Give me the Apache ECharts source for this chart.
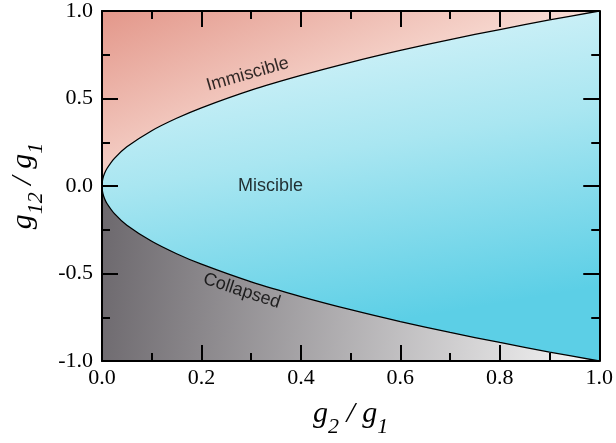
<!DOCTYPE html>
<html>
<head>
<meta charset="utf-8">
<script src="https://cdn.jsdelivr.net/npm/echarts@6/dist/echarts.min.js"></script>
<style>
  html, body { margin: 0; padding: 0; background: #fff; }
  #chart { width: 616px; height: 443px; }
</style>
</head>
<body>
<div id="chart"></div>
<script>
// Phase boundary of the two-component mixture: g12/g1 versus g2/g1
var boundaryX     = [0, 0.0005, 0.002, 0.005, 0.01, 0.025, 0.05, 0.1, 0.15, 0.2, 0.3, 0.4, 0.5, 0.6, 0.7, 0.8, 0.9, 1.0];
var immiscibleEdge = [0, 0.022, 0.045, 0.071, 0.1, 0.158, 0.224, 0.316, 0.387, 0.447, 0.548, 0.632, 0.707, 0.775, 0.837, 0.894, 0.949, 1.0];
var collapseEdge   = [0, -0.022, -0.045, -0.071, -0.1, -0.158, -0.224, -0.316, -0.387, -0.447, -0.548, -0.632, -0.707, -0.775, -0.837, -0.894, -0.949, -1.0];

// Axis ranges and ticks
var xTicks = [0.0, 0.2, 0.4, 0.6, 0.8, 1.0];
var yTicks = [-1.0, -0.5, 0.0, 0.5, 1.0];

// Region names
var regionNames = ['Immiscible', 'Miscible', 'Collapsed'];

function pairs(xs, ys) {
  return xs.map(function (x, i) { return [x, ys[i]]; });
}

var serif = "'Liberation Serif', 'Times New Roman', serif";
var sans = "'Liberation Sans', Arial, sans-serif";

function frameAxis(extra) {
  var base = {
    type: 'value',
    z: 10,
    axisLine: { show: true, onZero: false, lineStyle: { color: '#000', width: 2 } },
    axisTick: { show: true, inside: true, length: 16, lineStyle: { color: '#000', width: 2 } },
    minorTick: { show: true, splitNumber: 2, length: 8, lineStyle: { color: '#000', width: 2 } },
    splitLine: { show: false },
    minorSplitLine: { show: false }
  };
  return Object.assign(base, extra);
}

var titleRich = {
  g: { fontFamily: serif, fontStyle: 'italic', fontSize: 30, lineHeight: 30, verticalAlign: 'top', color: '#000' },
  s: { fontFamily: serif, fontStyle: 'italic', fontSize: 22, lineHeight: 22, padding: [17, 0, 0, 0], verticalAlign: 'top', color: '#000' }
};

var chart = echarts.init(document.getElementById('chart'), null, { renderer: 'canvas' });

var option = {
  animation: false,
  backgroundColor: '#fff',
  textStyle: { fontFamily: serif },
  grid: { left: 98, right: 16, top: 6, bottom: 75, containLabel: false },
  xAxis: [
    frameAxis({
      position: 'bottom',
      min: xTicks[0], max: xTicks[xTicks.length - 1], interval: 0.2,
      axisLabel: {
        show: true, margin: 6, color: '#000', fontFamily: serif, fontSize: 22,
        formatter: function (v) { return v.toFixed(1); }
      },
      name: '{g|g}{s|2}{g| / g}{s|1}',
      nameLocation: 'middle',
      nameGap: 38,
      nameTextStyle: { rich: titleRich }
    }),
    frameAxis({
      position: 'top',
      min: xTicks[0], max: xTicks[xTicks.length - 1], interval: 0.2,
      axisLabel: { show: false }
    })
  ],
  yAxis: [
    frameAxis({
      position: 'left',
      min: yTicks[0], max: yTicks[yTicks.length - 1], interval: 0.5,
      axisLabel: {
        show: true, margin: 9, color: '#000', fontFamily: serif, fontSize: 22,
        formatter: function (v) { return v.toFixed(1); }
      },
      name: '{g|g}{s|12}{g| / g}{s|1}',
      nameLocation: 'middle',
      nameGap: 64,
      nameRotate: 90,
      nameTextStyle: { rich: titleRich }
    }),
    frameAxis({
      position: 'right',
      min: yTicks[0], max: yTicks[yTicks.length - 1], interval: 0.5,
      axisLabel: { show: false }
    })
  ],
  series: [
    {
      // miscible background, spanning the whole plot
      name: regionNames[1] + ' fill',
      type: 'line',
      z: 1,
      data: [[0, 1], [1, 1]],
      symbol: 'none',
      lineStyle: { width: 0 },
      areaStyle: {
        origin: 'start',
        opacity: 1,
        color: new echarts.graphic.LinearGradient(0, 0, 0.12, 1, [
          { offset: 0, color: '#e4f7fb' },
          { offset: 0.5, color: '#a9e6f1' },
          { offset: 1, color: '#5ccfe6' }
        ])
      },
      silent: true
    },
    {
      name: regionNames[0],
      type: 'line',
      z: 2,
      data: pairs(boundaryX, immiscibleEdge),
      symbol: 'none',
      smooth: 0.3,
      lineStyle: { color: '#000', width: 1.3 },
      areaStyle: {
        origin: 'end',
        opacity: 1,
        color: new echarts.graphic.LinearGradient(0, 0, 0.15, 1, [
          { offset: 0, color: '#e3978a' },
          { offset: 1, color: '#f8dcd4' }
        ])
      },
      silent: true
    },
    {
      name: regionNames[2],
      type: 'line',
      z: 2,
      data: pairs(boundaryX, collapseEdge),
      symbol: 'none',
      smooth: 0.3,
      lineStyle: { color: '#000', width: 1.3 },
      areaStyle: {
        origin: 'start',
        opacity: 1,
        color: new echarts.graphic.LinearGradient(0, 0, 1, 0.25, [
          { offset: 0, color: '#6c686d' },
          { offset: 1, color: '#f4f4f4' }
        ])
      },
      silent: true
    },
    {
      // region captions, anchored in data space
      type: 'scatter',
      z: 5,
      symbolSize: 0,
      silent: true,
      data: [
        { value: [0.293, 0.638], name: regionNames[0], label: { rotate: 16 } },
        { value: [0.339, 0.0], name: regionNames[1], label: { rotate: 0 } },
        { value: [0.281, -0.60], name: regionNames[2], label: { rotate: -18 } }
      ],
      label: {
        show: true,
        position: 'inside',
        formatter: '{b}',
        color: '#000',
        fontFamily: sans,
        fontSize: 18
      }
    }
  ]
};

chart.setOption(option);
</script>
</body>
</html>
